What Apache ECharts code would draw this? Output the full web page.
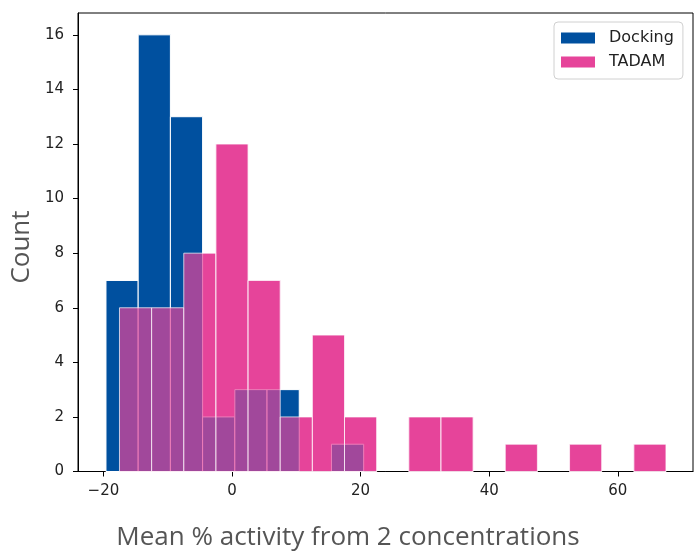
<!DOCTYPE html>
<html><head><meta charset="utf-8">
<script src="https://cdn.jsdelivr.net/npm/echarts@6/dist/echarts.min.js"></script>
<style>html,body{margin:0;padding:0;background:#fff}#c{width:695px;height:553px}</style>
</head><body><div id="c"></div>
<script>
// ---- data ----
var seriesNames = ['Docking', 'TADAM'];
var dockingStart = -19.6, dockingWidth = 5.01;
var dockingCounts = [7, 16, 13, 2, 3, 3, 0, 1];
var tadamStart = -17.5, tadamWidth = 5.0;
var tadamCounts = [6, 6, 8, 12, 7, 2, 5, 2, 0, 2, 2, 0, 1, 0, 1, 0, 1];
var xTicks = [-20, 0, 20, 40, 60];
var yTicks = [0, 2, 4, 6, 8, 10, 12, 14, 16];
var xTitle = 'Mean % activity from 2 concentrations';
var yTitle = 'Count';

var BLUE = '#00509f', PINK = '#e6449a';

function bins(start, width, counts) {
  return counts.map(function (c, i) { return [start + i * width, start + (i + 1) * width, c]; });
}
function barRenderer(fill, stroke, opacity) {
  return function (params, api) {
    var c = api.value(2);
    if (!c) return null;
    var p0 = api.coord([api.value(0), 0]);
    var p1 = api.coord([api.value(1), c]);
    return {
      type: 'rect',
      shape: { x: p0[0], y: p1[1], width: p1[0] - p0[0], height: p0[1] - p1[1] },
      style: { fill: fill, stroke: stroke, lineWidth: 1, opacity: opacity }
    };
  };
}
function minus(v) { return String(v).replace('-', '\u2212'); }

var chart = echarts.init(document.getElementById('c'), null, { renderer: 'canvas' });
chart.setOption({
  animation: false,
  backgroundColor: '#fff',
  grid: { left: 78, right: 2, top: 13, bottom: 81.5, show: true, borderColor: '#000', borderWidth: 1, backgroundColor: 'transparent' },
  xAxis: {
    type: 'value', min: -23.95, max: 71.7,
    splitLine: { show: false },
    axisLine: { show: true, onZero: false, lineStyle: { color: '#000', width: 1 } },
    axisTick: { show: true, length: 5, inside: false, customValues: xTicks, lineStyle: { color: '#000' } },
    axisLabel: { customValues: xTicks, margin: 12, color: '#222', fontFamily: 'DejaVu Sans', fontSize: 15, formatter: minus }
  },
  yAxis: {
    type: 'value', min: 0, max: 16.8,
    splitLine: { show: false },
    axisLine: { show: true, onZero: false, lineStyle: { color: '#000', width: 1 } },
    axisTick: { show: true, length: 5, inside: false, customValues: yTicks, lineStyle: { color: '#000' } },
    axisLabel: { customValues: yTicks, margin: 14, color: '#222', fontFamily: 'DejaVu Sans', fontSize: 15 }
  },
  legend: {
    orient: 'vertical', left: 554, top: 22,
    padding: [8, 9, 9, 7], itemGap: 8, itemWidth: 34, itemHeight: 11,
    backgroundColor: '#fff', borderColor: '#d0d0d0', borderWidth: 1, borderRadius: 4,
    textStyle: { fontFamily: 'DejaVu Sans', fontSize: 16, color: '#222', padding: [0, 0, 0, 9], lineHeight: 16 },
    data: [
      { name: seriesNames[0], icon: 'rect', itemStyle: { color: BLUE, opacity: 1, borderWidth: 0 } },
      { name: seriesNames[1], icon: 'rect', itemStyle: { color: PINK, opacity: 1, borderWidth: 0 } }
    ]
  },
  series: [
    { type: 'custom', name: 'tadam_base', z: 1, renderItem: barRenderer(PINK, 'rgba(255,255,255,0.55)', 1),
      encode: { x: [0, 1], y: 2 }, data: bins(tadamStart, tadamWidth, tadamCounts), silent: true },
    { type: 'custom', name: seriesNames[0], z: 2, renderItem: barRenderer(BLUE, '#ffffff', 1),
      itemStyle: { color: BLUE }, encode: { x: [0, 1], y: 2 }, data: bins(dockingStart, dockingWidth, dockingCounts) },
    { type: 'custom', name: seriesNames[1], z: 3, renderItem: barRenderer(PINK, '#ffffff', 0.7),
      itemStyle: { color: PINK }, encode: { x: [0, 1], y: 2 }, data: bins(tadamStart, tadamWidth, tadamCounts) }
  ],
  graphic: [
    { type: 'text', x: 348, y: 538, style: { text: xTitle, fontFamily: 'Open Sans', fontSize: 26, fill: '#555', align: 'center', verticalAlign: 'middle' } },
    { type: 'text', x: 22, y: 247, rotation: Math.PI / 2, style: { text: yTitle, fontFamily: 'Open Sans', fontSize: 26, fill: '#555', align: 'center', verticalAlign: 'middle' } }
  ]
});
</script></body></html>
